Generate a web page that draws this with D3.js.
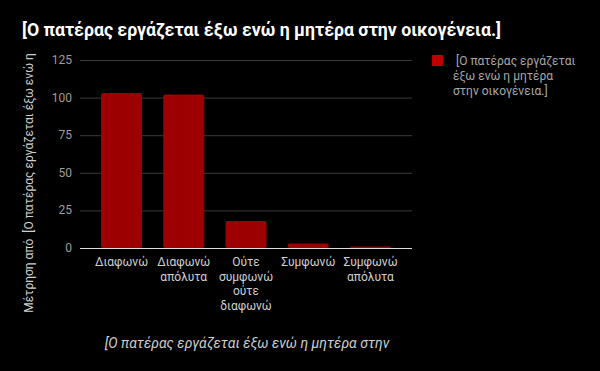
<!DOCTYPE html>
<html><head><meta charset="utf-8">
<script src="https://cdn.jsdelivr.net/npm/d3@7"></script>
<style>body{margin:0;background:#000}svg{display:block}</style>
</head><body>
<script>
const categories = [["Διαφωνώ"],["Διαφωνώ","απόλυτα"],["Ούτε","συμφωνώ","ούτε","διαφωνώ"],["Συμφωνώ"],["Συμφωνώ","απόλυτα"]];
const values = [103, 102, 18, 3, 1];
const yTicks = [0, 25, 50, 75, 100, 125];
const title = "[Ο πατέρας εργάζεται έξω ενώ η μητέρα στην οικογένεια.]";
const yTitle = "Μέτρηση από  [Ο πατέρας εργάζεται έξω ενώ η";
const xTitle = "[Ο πατέρας εργάζεται έξω ενώ η μητέρα στην";
const legendLines = [" [Ο πατέρας εργάζεται","έξω ενώ η μητέρα","στην οικογένεια.]"];

(function(){
const W=600,H=371, font="Roboto, 'Noto Sans', sans-serif";
const svg=d3.select("body").append("svg").attr("width",W).attr("height",H).style("background","#000").style("font-family",font);
const pL=80,pR=412,pT=60,pB=248;
const x=d3.scaleBand().domain(d3.range(values.length)).range([pL,pR]).paddingInner(0.34).paddingOuter(0.337);
const y=d3.scaleLinear().domain([0,125]).range([pB,pT]);

svg.append("text").attr("x",22).attr("y",36).attr("fill","#fff").attr("font-size",17.7).attr("font-weight","bold").text(title);

const gy=svg.append("g");
gy.selectAll("line").data(yTicks.filter(d=>d>0)).join("line")
 .attr("x1",pL).attr("x2",pR).attr("y1",d=>y(d)+0.5).attr("y2",d=>y(d)+0.5).attr("stroke","#3a3a3a");
gy.selectAll("text").data(yTicks).join("text").attr("x",72).attr("y",d=>y(d)+4).attr("text-anchor","end")
 .attr("fill","#9e9e9e").attr("font-size",12).text(d=>d);

svg.append("g").selectAll("rect").data(values).join("rect")
 .attr("x",(d,i)=>x(i)).attr("width",x.bandwidth()).attr("y",d=>y(d)).attr("height",d=>pB-y(d))
 .attr("rx",2).attr("fill","#9c0000");

svg.append("line").attr("x1",pL).attr("x2",pR).attr("y1",pB+0.5).attr("y2",pB+0.5).attr("stroke","#ddd");

const gx=svg.append("g");
categories.forEach((lines,i)=>{
  const t=gx.append("text").attr("text-anchor","middle").attr("fill","#cfcfcf").attr("font-size",12);
  lines.forEach((l,j)=>t.append("tspan").attr("x",x(i)+x.bandwidth()/2).attr("y",266+j*14.5).text(l));
});

svg.append("text").attr("transform","translate(33,183) rotate(-90)").attr("text-anchor","middle")
 .attr("fill","#cfcfcf").attr("font-size",12).style("white-space","pre").text(yTitle);

svg.append("text").attr("x",247).attr("y",348).attr("text-anchor","middle").attr("font-style","italic")
 .attr("fill","#cfcfcf").attr("font-size",14).text(xTitle);

svg.append("rect").attr("x",432).attr("y",55).attr("width",11).attr("height",11).attr("fill","#c00000");
const lt=svg.append("text").attr("fill","#a8a8a8").attr("font-size",12).style("white-space","pre");
legendLines.forEach((l,j)=>lt.append("tspan").attr("x",453).attr("y",65+j*15).text(l));
})();
</script>
</body></html>
